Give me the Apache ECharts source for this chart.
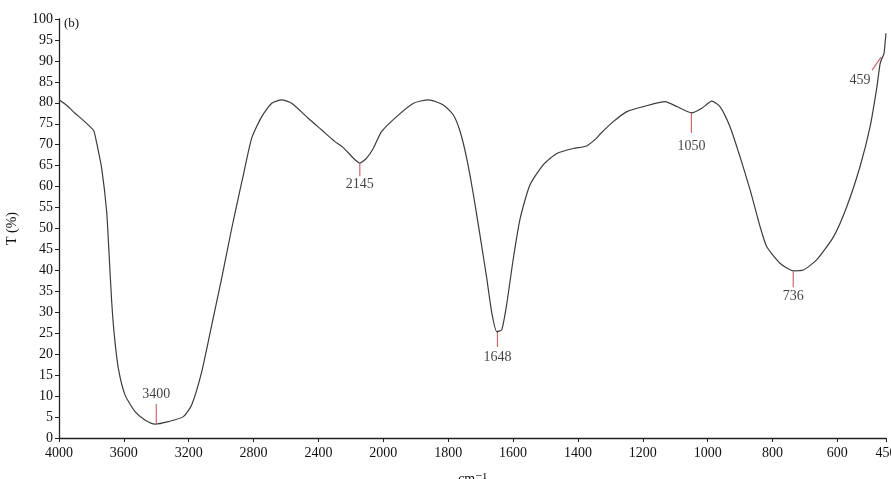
<!DOCTYPE html>
<html lang="en">
<head>
	<meta charset="UTF-8">
	<title>FTIR spectrum (b)</title>
	<script src="https://cdn.jsdelivr.net/npm/echarts@6/dist/echarts.min.js"></script>
	<style>
		html, body { margin: 0; padding: 0; background: #fff; }
	</style>
</head>
<body>
	<div id="irChart" style="width: 891px; height: 479px;"></div>
	<script type="text/javascript">

		// spectrum (wavenumber in cm-1, transmittance in %)
		const wavenumbers = [
			4000, 3950, 3901, 3850, 3798, 3785, 3768, 3737, 3706, 3692, 3675, 3659, 3634, 3593,
			3531, 3470, 3408, 3326, 3233, 3182, 3120, 3058, 2997, 2935, 2904, 2863, 2812, 2750,
			2688, 2627, 2565, 2463, 2380, 2300, 2247, 2185, 2145, 2103, 2062, 2011, 1959, 1907,
			1861, 1815, 1784, 1763, 1743, 1722, 1702, 1681, 1666, 1650, 1635, 1620, 1599, 1578,
			1548, 1507, 1465, 1414, 1373, 1343, 1332, 1291, 1249, 1198, 1131, 1095, 1049, 1018,
			987, 962, 931, 900, 869, 838, 818, 777, 736, 705, 664, 612, 571, 530, 499, 478,
			468, 460, 456, 453, 450
		];
		const transmittance = [
			80.7, 79.3, 77.5, 75.8, 73.9, 73.3, 70.5, 64.4, 54.0, 44.5, 32.5, 24.6, 16.6, 10.3,
			6.3, 4.3, 3.3, 3.9, 5.1, 7.9, 15.8, 27.0, 38.1, 50.0, 55.6, 62.8, 71.5, 76.7,
			79.9, 80.7, 79.9, 76.3, 73.5, 70.8, 69.3, 66.8, 65.6, 66.8, 69.1, 73.1, 76.7, 79.9,
			80.7, 79.5, 77.1, 73.1, 66.8, 58.0, 48.4, 38.1, 30.1, 25.4, 25.8, 31.7, 42.9, 52.4,
			60.4, 65.2, 67.9, 69.1, 69.7, 71.5, 72.5, 75.5, 77.9, 79.1, 80.3, 79.1, 77.6, 78.7,
			80.4, 79.1, 74.3, 67.1, 59.2, 50.4, 45.7, 41.7, 39.9, 40.1, 42.5, 48.0, 55.2, 64.8, 74.3, 83.8,
			89.4, 91.0, 91.8, 94.2, 96.6
		];

		// peak annotations: label, marker start / end (wavenumber, T) and label anchor
		const peakLabels = ['3400', '2145', '1648', '1050', '736', '459'];
		const markStart = [[3400, 3.6], [2145, 65.4], [1648, 25.3], [1050, 77.6], [736, 39.7], [465, 90.9]];
		const markEnd = [[3400, 8.1], [2145, 62.5], [1648, 21.7], [1050, 72.8], [736, 36.0], [493, 87.8]];
		const labelAt = [[3400, 10.4], [2145, 60.6], [1648, 19.3], [1050, 69.7], [736, 33.7], [530, 85.4]];

		// the x scale changes at 2000 cm-1: 4000-2000 is drawn at half the scale of 2000-450
		const toAxis = (w) => w >= 2000 ? (4000 - w) / 2 : 1000 + (2000 - w);
		const fromAxis = (u) => u <= 1000 ? 4000 - 2 * u : 2000 - (u - 1000);

		const spectrum = wavenumbers.map((w, i) => [toAxis(w), transmittance[i]]);

		const serif = '"Liberation Serif", "DejaVu Serif", serif';
		const markColor = '#c96a6d';

		const markerSeries = peakLabels.map((name, i) => ({
			name: 'mark ' + name,
			type: 'line',
			silent: true,
			symbol: 'none',
			lineStyle: { color: markColor, width: 1.2 },
			data: [
				[toAxis(markStart[i][0]), markStart[i][1]],
				[toAxis(markEnd[i][0]), markEnd[i][1]]
			],
			z: 3
		}));

		const irChart = echarts.init(document.getElementById('irChart'));

		irChart.setOption({
			animation: false,
			backgroundColor: '#ffffff',
			grid: { left: 59, right: 5, top: 19, bottom: 41, outerBoundsMode: 'none' },
			textStyle: { fontFamily: serif },
			graphic: [{
				type: 'text',
				left: 64,
				top: 17,
				style: { text: '(b)', font: '13px ' + serif, fill: '#111' }
			}],
			xAxis: {
				type: 'value',
				min: 0,
				max: 2550,
				interval: 200,
				name: 'cm\u207B\u00B9',
				nameLocation: 'middle',
				nameGap: 34,
				nameTextStyle: { fontFamily: serif, fontSize: 14, color: '#111' },
				axisLine: { lineStyle: { color: '#222', width: 1.3 } },
				axisTick: { length: 4, lineStyle: { color: '#222' } },
				axisLabel: {
					fontFamily: serif,
					fontSize: 14,
					color: '#111',
					margin: 8,
					showMaxLabel: true,
					formatter: (v) => String(fromAxis(v))
				},
				splitLine: { show: false }
			},
			yAxis: {
				type: 'value',
				min: 0,
				max: 100,
				interval: 5,
				name: 'T (%)',
				nameLocation: 'middle',
				nameRotate: 90,
				nameGap: 40,
				nameTextStyle: { fontFamily: serif, fontSize: 14, color: '#111' },
				axisLine: { show: true, lineStyle: { color: '#222', width: 1.3 } },
				axisTick: { show: true, length: 4, lineStyle: { color: '#222' } },
				axisLabel: { fontFamily: serif, fontSize: 14, color: '#111', margin: 6 },
				splitLine: { show: false }
			},
			series: [{
				name: 'spectrum',
				type: 'line',
				symbol: 'none',
				smooth: 0.2,
				lineStyle: { color: '#3c3c3c', width: 1.2 },
				data: spectrum,
				z: 4
			}].concat(markerSeries).concat([{
				name: 'peak labels',
				type: 'scatter',
				silent: true,
				symbolSize: 0,
				data: labelAt.map((p, i) => ({ value: [toAxis(p[0]), p[1]], name: peakLabels[i] })),
				label: {
					show: true,
					position: 'inside',
					formatter: (p) => p.name,
					fontFamily: serif,
					fontSize: 14,
					color: '#111'
				},
				z: 5
			}])
		});
	</script>
</body>
</html>
